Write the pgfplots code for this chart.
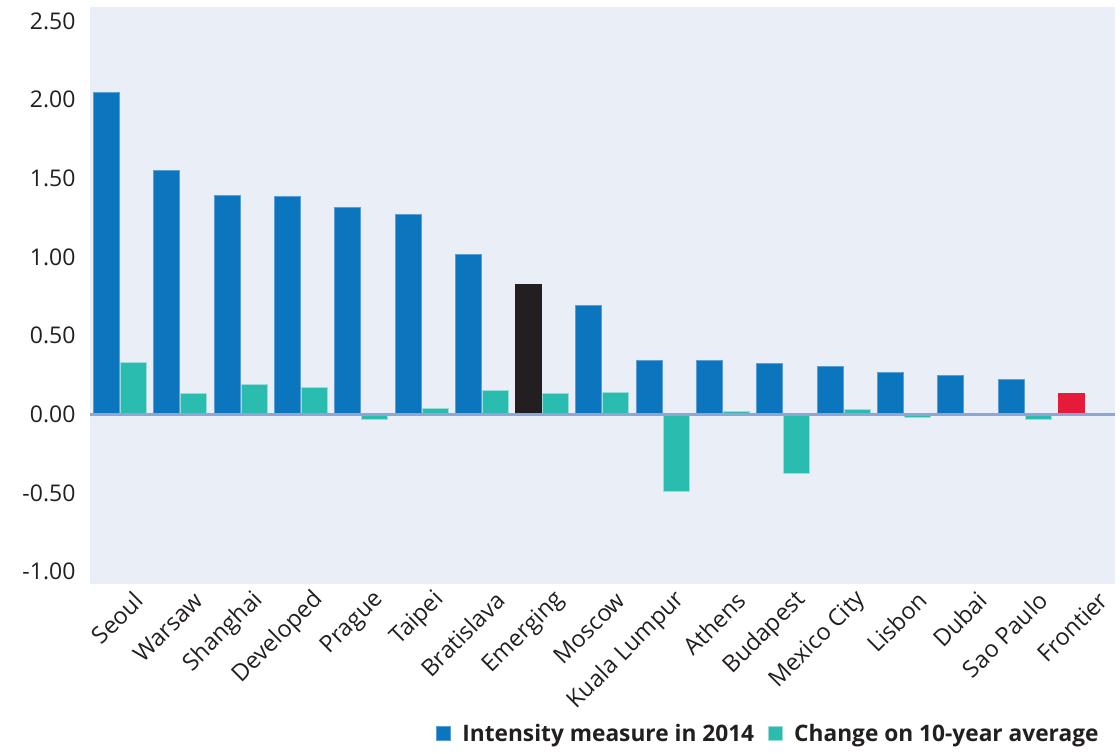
\documentclass[border=0pt]{standalone}
\usepackage{pgfplots}
\pgfplotsset{compat=1.18}
\usepackage{fontspec}
\setmainfont{Open Sans}
\definecolor{cblue}{HTML}{0B76BE}
\definecolor{cblueedge}{HTML}{5E9ED6}
\definecolor{cteal}{HTML}{2BBCB0}
\definecolor{ctealedge}{HTML}{9BDDD6}
\definecolor{cblack}{HTML}{231F20}
\definecolor{cred}{HTML}{E41C39}
\definecolor{cbg}{HTML}{E9EEF7}
\definecolor{czero}{HTML}{8EA6D4}
\definecolor{ctext}{HTML}{231F20}
\begin{document}
\begin{tikzpicture}
\useasboundingbox (-90pt,-170pt) rectangle (1030pt,584pt);
\begin{axis}[
  at={(0pt,0pt)}, anchor=south west,
  scale only axis,
  width=1025pt, height=577pt,
  xmin=-0.5, xmax=16.5,
  ymin=-1.078, ymax=2.588,
  ybar,
  bar width=26pt,
  axis background/.style={fill=cbg},
  axis line style={draw=none},
  major tick length=0pt,
  ytick={-1,-0.5,0,0.5,1,1.5,2,2.5},
  yticklabel style={/pgf/number format/fixed, /pgf/number format/fixed zerofill,
    /pgf/number format/precision=2, /pgf/number format/assume math mode=true,
    font=\fontsize{23}{27}\selectfont, text=ctext, xshift=-11pt},
  xtick={0,...,16},
  xticklabels={Seoul,Warsaw,Shanghai,Developed,Prague,Taipei,Bratislava,Emerging,Moscow,Kuala Lumpur,Athens,Budapest,Mexico City,Lisbon,Dubai,Sao Paulo,Frontier},
  xticklabel style={xshift=21pt, yshift=-10pt, rotate=45, anchor=east,
    font=\fontsize{23.5}{27}\selectfont, text=ctext},
  legend style={at={(0.989,-0.282)}, anchor=south east, draw=none, fill=none,
    legend columns=2, font=\bfseries\fontsize{22.7}{26}\selectfont, text=ctext,
    /tikz/every odd column/.append style={column sep=9pt},
    /tikz/every even column/.append style={column sep=12pt}},
  legend image code/.code={\fill[#1] (0pt,-7pt) rectangle (14pt,7pt);},
]
\addplot+[bar shift=-13.5pt, fill=cblue, draw=cblueedge, line width=1pt] coordinates {
 (0,2.046) (1,1.552) (2,1.389) (3,1.385) (4,1.313) (5,1.268) (6,1.015)
 (8,0.690) (9,0.344) (10,0.344) (11,0.325) (12,0.306) (13,0.268) (14,0.249) (15,0.219)};
\addlegendentry{Intensity measure in 2014}
\addplot+[bar shift=13.5pt, fill=cteal, draw=ctealedge, line width=1pt] coordinates {
 (0,0.332) (1,0.131) (2,0.189) (3,0.170) (4,-0.032) (5,0.036) (6,0.152) (7,0.131)
 (8,0.140) (9,-0.490) (10,0.018) (11,-0.374) (12,0.030) (13,-0.018) (14,0.008) (15,-0.030)};
\addlegendentry{Change on 10-year average}
\addplot+[forget plot, bar shift=-13.5pt, fill=cblack, draw=cblack, line width=1pt] coordinates {(7,0.823)};
\addplot+[forget plot, bar shift=-13.5pt, fill=cred, draw=cred, line width=1pt] coordinates {(16,0.130)};
\draw[czero, line width=3pt] (axis cs:-0.5,0) -- (axis cs:16.5,0);
\end{axis}
\end{tikzpicture}
\end{document}
